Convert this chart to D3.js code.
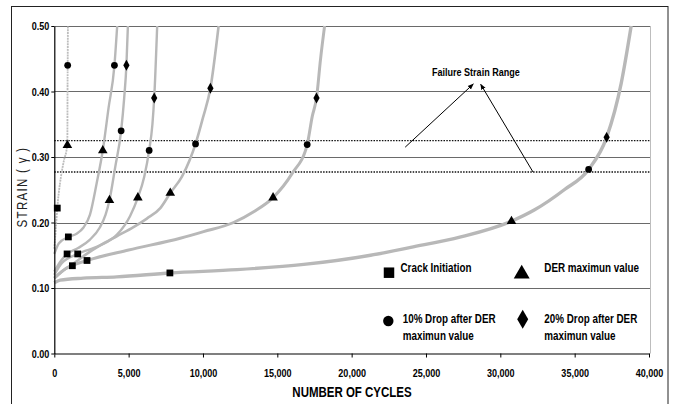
<!DOCTYPE html>
<html>
<head>
<meta charset="utf-8">
<script src="https://cdn.jsdelivr.net/npm/d3@7"></script>
<style>
  html, body { margin: 0; padding: 0; background: #fff; }
  svg { display: block; }
  .tick text { font-family: "Liberation Sans", Arial, sans-serif; font-weight: bold; font-size: 11px; fill: #000; }
</style>
</head>
<body>
<svg id="chart" width="677" height="404"></svg>
<script>
// Axis ticks
const cycleTicks = [0, 5000, 10000, 15000, 20000, 25000, 30000, 35000, 40000];
const strainTicks = [0, 0.1, 0.2, 0.3, 0.4, 0.5];

// Strain vs. number of cycles, one curve per test  [cycles, strain]
const curve1 = [[0,0.16],[100,0.19],[200,0.222],[300,0.245],[450,0.27],[650,0.295],[850,0.315],[880,0.33],[890,0.40],[900,0.44],[915,0.5]];
const curve2 = [[0,0.152],[300,0.168],[945,0.178],[1500,0.183],[1950,0.192],[2400,0.212],[2850,0.26],[3260,0.31],[3650,0.375],[4045,0.44],[4230,0.5]];
const curve3 = [[0,0.125],[400,0.14],[860,0.152],[1600,0.161],[2400,0.174],[3050,0.192],[3450,0.212],[3710,0.234],[4100,0.285],[4495,0.34],[4700,0.39],[4850,0.44],[4950,0.5]];
const curve4 = [[0,0.12],[500,0.138],[1575,0.152],[3080,0.165],[4200,0.181],[5100,0.21],[5620,0.238],[6050,0.27],[6380,0.31],[6600,0.35],[6720,0.39],[6920,0.5]];
const curve5 = [[0,0.115],[500,0.125],[1215,0.136],[2180,0.152],[3080,0.165],[4200,0.179],[5325,0.193],[6225,0.206],[7130,0.222],[7800,0.245],[8585,0.27],[9100,0.295],[9500,0.32],[10000,0.36],[10500,0.405],[11050,0.5]];
const curve6 = [[0,0.115],[800,0.13],[2200,0.142],[5000,0.158],[8470,0.176],[10040,0.186],[12060,0.2],[13410,0.2165],[14715,0.238],[16000,0.275],[17010,0.319],[17350,0.362],[17635,0.39],[17900,0.448],[18180,0.5]];
const curve7 = [[0,0.108],[400,0.112],[1950,0.115],[4200,0.117],[7800,0.123],[12290,0.128],[16780,0.136],[21270,0.15],[23970,0.162],[27340,0.178],[30750,0.202],[32280,0.219],[34300,0.25],[35940,0.281],[37150,0.33],[38130,0.4125],[38800,0.5]];

// Event markers  [cycles, strain]
const crackInitiation = [[200,0.222],[945,0.178],[860,0.152],[1575,0.152],[1215,0.134],[2200,0.142],[7775,0.123]];
const derMaximum = [[880,0.318],[3260,0.31],[3710,0.234],[5620,0.238],[7800,0.245],[14715,0.238],[30750,0.202]];
const drop10 = [[900,0.44],[4045,0.44],[4495,0.34],[6380,0.31],[9500,0.32],[17010,0.319],[35940,0.281]];
const drop20 = [[4850,0.44],[6720,0.39],[10500,0.405],[17635,0.39],[37150,0.33]];

// Failure strain range bounds
const failureRange = [0.325, 0.277];

const svg = d3.select("#chart");
const font = '"Liberation Sans", Arial, sans-serif';

// Narrow the glyphs of Arial-metric text to a condensed width
function condense(sel, f = 0.82) {
  sel.each(function () {
    const len = this.getComputedTextLength();
    d3.select(this).attr("textLength", len * f).attr("lengthAdjust", "spacingAndGlyphs");
  });
}

const x = d3.scaleLinear().domain([0, 40000]).range([54.3, 649]);
const y = d3.scaleLinear().domain([0, 0.5]).range([353.5, 26]);

// Outer frame
svg.append("rect").attr("x", 11.5).attr("y", 6.5).attr("width", 656.5).attr("height", 420)
  .attr("fill", "none").attr("stroke", "#222").attr("stroke-width", 1);

// Horizontal gridlines
svg.append("g").selectAll("line").data(strainTicks.filter(d => d > 0)).join("line")
  .attr("x1", x(0)).attr("x2", 650)
  .attr("y1", d => Math.round(y(d)) + 0.5).attr("y2", d => Math.round(y(d)) + 0.5)
  .attr("stroke", "#6a6a6a").attr("stroke-width", 1);

// Right edge of plot area
svg.append("line").attr("x1", 650.5).attr("x2", 650.5).attr("y1", y(0.5)).attr("y2", y(0))
  .attr("stroke", "#bdbdbd").attr("stroke-width", 1);

// Failure strain range (dotted)
svg.append("g").selectAll("line").data(failureRange).join("line")
  .attr("x1", x(0)).attr("x2", 650)
  .attr("y1", d => y(d)).attr("y2", d => y(d))
  .attr("stroke", "#111").attr("stroke-width", 1.4).attr("stroke-dasharray", "1.5,1.3");

// Curves
const line = d3.line().x(d => x(d[0])).y(d => y(d[1])).curve(d3.curveMonotoneX);
const curves = [
  { data: curve7, w: 3.4 },
  { data: curve6, w: 3.0 },
  { data: curve5, w: 2.6 },
  { data: curve4, w: 2.4 },
  { data: curve3, w: 2.4 },
  { data: curve2, w: 2.4 },
];
svg.append("g").selectAll("path").data(curves).join("path")
  .attr("d", d => line(d.data))
  .attr("fill", "none").attr("stroke", "#b8b8b8").attr("stroke-width", d => d.w)
  .attr("stroke-linejoin", "round");
svg.append("path").attr("d", line(curve1))
  .attr("fill", "none").attr("stroke", "#bdbdbd").attr("stroke-width", 1.8)
  .attr("stroke-dasharray", "2,0.8");

// Axes
const gy = svg.append("g").attr("transform", `translate(${x(0)},0)`)
  .call(d3.axisLeft(y).tickValues(strainTicks).tickFormat(d3.format(".2f")).tickSize(3).tickSizeOuter(0).tickPadding(2));
const gx = svg.append("g").attr("transform", `translate(0,${y(0)})`)
  .call(d3.axisBottom(x).tickValues(cycleTicks).tickFormat(d3.format(",")).tickSize(4).tickSizeOuter(0).tickPadding(12));
[gy, gx].forEach(g => {
  g.select(".domain").attr("stroke", "#000").attr("stroke-width", 1.2);
  g.selectAll(".tick line").attr("stroke", "#000");
  condense(g.selectAll(".tick text"));
});

// Markers
const sym = (type, size) => d3.symbol().type(type).size(size);
const markerSets = [
  { data: crackInitiation, type: d3.symbolSquare, size: 46 },
  { data: derMaximum, type: d3.symbolTriangle, size: 40 },
  { data: drop10, type: d3.symbolCircle, size: 36 },
  { data: drop20, type: d3.symbolDiamond, size: 34 },
];
markerSets.forEach(m => {
  svg.append("g").selectAll("path").data(m.data).join("path")
    .attr("transform", d => `translate(${x(d[0])},${y(d[1])})`)
    .attr("d", sym(m.type, m.size)()).attr("fill", "#000");
});

// Axis titles
condense(svg.append("text").attr("x", 352).attr("y", 397).attr("text-anchor", "middle")
  .attr("font-family", font).attr("font-weight", "bold").attr("font-size", 14)
  .text("NUMBER OF CYCLES"));
condense(svg.append("text").attr("transform", "translate(26.5,187) rotate(-90)").attr("text-anchor", "middle")
  .attr("font-family", font).attr("font-size", 14).attr("letter-spacing", 1.6).attr("fill", "#222")
  .text("STRAIN ( γ )"));

// Annotation
svg.append("defs").append("marker").attr("id", "arrow").attr("viewBox", "0 0 10 10")
  .attr("refX", 9).attr("refY", 5).attr("markerWidth", 6).attr("markerHeight", 6)
  .attr("orient", "auto").append("path").attr("d", "M0,1 L10,5 L0,9 Z").attr("fill", "#000");
condense(svg.append("text").attr("x", 432).attr("y", 76)
  .attr("font-family", font).attr("font-weight", "bold").attr("font-size", 11)
  .text("Failure Strain Range"));
const arrows = [[x(23600), y(0.315), 473.3, 84], [x(32200), y(0.277), 480.7, 84.3]];
svg.append("g").selectAll("line").data(arrows).join("line")
  .attr("x1", d => d[0]).attr("y1", d => d[1]).attr("x2", d => d[2]).attr("y2", d => d[3])
  .attr("stroke", "#000").attr("stroke-width", 1).attr("marker-end", "url(#arrow)");

// Legend
const legendItems = [
  { type: d3.symbolSquare, size: 110, mx: 389, my: 272.7, tx: 400.5, lines: ["Crack Initiation"], ty: 272 },
  { type: d3.symbolTriangle, size: 110, mx: 521.7, my: 274, tx: 544.3, lines: ["DER maximun value"], ty: 271.5 },
  { type: d3.symbolCircle, size: 85, mx: 388.3, my: 321, tx: 402.7, lines: ["10% Drop after DER", "maximun value"], ty: 323.3 },
  { type: d3.symbolDiamond, size: 105, mx: 522.7, my: 319.3, tx: 544.3, lines: ["20% Drop after DER", "maximun value"], ty: 323.3 },
];
const lg = svg.append("g");
legendItems.forEach(it => {
  lg.append("path").attr("transform", `translate(${it.mx},${it.my})`)
    .attr("d", sym(it.type, it.size)()).attr("fill", "#000");
  const t = lg.append("text").attr("font-family", font).attr("font-weight", "bold").attr("font-size", 12);
  it.lines.forEach((s, i) => condense(t.append("tspan").attr("x", it.tx).attr("y", it.ty + i * 16.7).text(s)));
});
</script>
</body>
</html>
